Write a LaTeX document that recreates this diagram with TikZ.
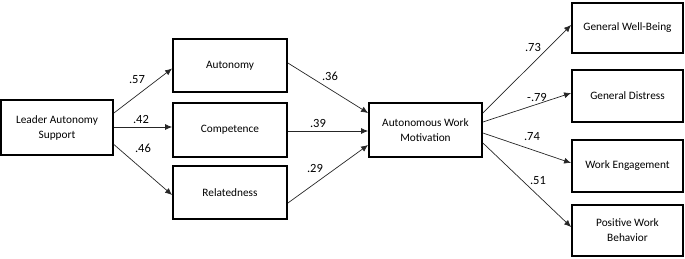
\documentclass[tikz,border=0pt]{standalone}
\usepackage{fontspec}
\setmainfont{Carlito}
\usetikzlibrary{arrows.meta}
\begin{document}
\begin{tikzpicture}[x=1pt,y=-1pt,
  box/.style={draw=black,line width=1.8pt,fill=white,align=center,inner sep=2pt,
    font=\fontsize{11.3}{15}\selectfont},
  conn/.style={draw=black!85,line width=0.7pt,-{Latex[length=7pt,width=6pt]}},
  coef/.style={font=\fontsize{12.5}{14}\selectfont,inner sep=1pt}]
\useasboundingbox (0,0) rectangle (685,258);
\node[box,minimum width=112pt,minimum height=55pt] (las) at (57,127.5) {Leader Autonomy\\Support};
\node[box,minimum width=114pt,minimum height=53pt] (aut) at (230,65.5) {Autonomy};
\node[box,minimum width=114pt,minimum height=54pt] (com) at (230,130) {Competence};
\node[box,minimum width=114pt,minimum height=53pt] (rel) at (230,192.5) {Relatedness};
\node[box,minimum width=113pt,minimum height=54pt] (awm) at (425.5,130) {Autonomous Work\\Motivation};
\node[box,minimum width=111pt,minimum height=50pt] (gwb) at (627.5,28) {General Well-Being};
\node[box,minimum width=111pt,minimum height=52pt] (gd) at (627.5,96) {General Distress};
\node[box,minimum width=111pt,minimum height=52pt] (we) at (627.5,166) {Work Engagement};
\node[box,minimum width=111pt,minimum height=51pt] (pwb) at (627.5,230.5) {Positive Work\\Behavior};

\draw[conn] ([yshift=14.5pt]las.east) -- ([yshift=-3pt]aut.west);
\draw[conn] ([yshift=0.5pt]las.east) -- ([yshift=0.5pt]las.east -| com.west);
\draw[conn] ([yshift=-17pt]las.east) -- ([yshift=-2.5pt]rel.west);
\draw[conn] ([yshift=2.5pt]aut.east) -- ([yshift=17pt]awm.west);
\draw[conn] ([yshift=-1pt]com.east) -- ([yshift=-1pt]awm.west);
\draw[conn] ([yshift=-10.5pt]rel.east) -- ([yshift=-15pt]awm.west);
\draw[conn] ([yshift=17pt]awm.east) -- ([yshift=3pt]gwb.west);
\draw[conn] ([yshift=8pt]awm.east) -- ([yshift=3pt]gd.west);
\draw[conn] ([yshift=-3pt]awm.east) -- ([yshift=3pt]we.west);
\draw[conn] ([yshift=-13pt]awm.east) -- ([yshift=3.5pt]pwb.west);

\node[coef] (c1) at (137,80) {.57};
\node[coef] (c2) at (141,119) {.42};
\node[coef] (c3) at (143,148) {.46};
\node[coef] (c4) at (330,76) {.36};
\node[coef] (c5) at (318,123) {.39};
\node[coef] (c6) at (315,168) {.29};
\node[coef] (c7) at (533,47) {.73};
\node[coef] (c8) at (537,97) {-.79};
\node[coef] (c9) at (532,137) {.74};
\node[coef] (c10) at (538,181) {.51};
\end{tikzpicture}
\end{document}
